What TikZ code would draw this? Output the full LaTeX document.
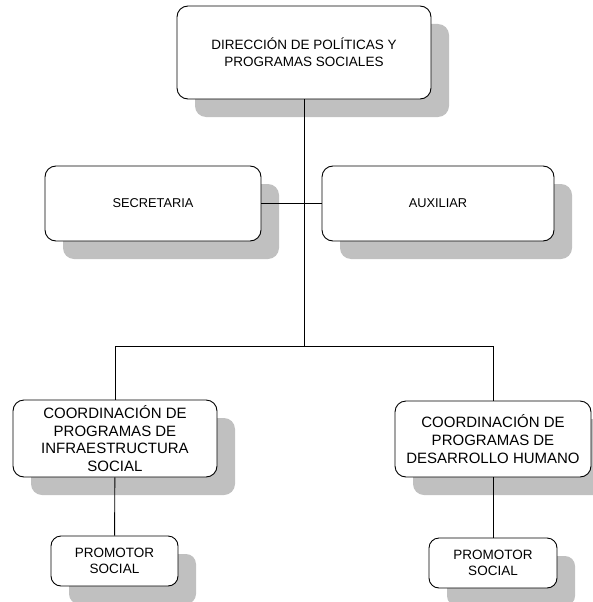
\documentclass[tikz,border=0pt]{standalone}
\usepackage{fontspec}
\setmainfont{Liberation Sans}
\usetikzlibrary{shadows}
\definecolor{shadowgray}{HTML}{C0C0C0}

\begin{document}
\begin{tikzpicture}[x=1pt,y=-1pt,line width=0.9pt,
    box/.style={draw,rectangle,rounded corners=11pt,fill=white,align=center,inner sep=0pt,
        drop shadow={shadow xshift=18pt,shadow yshift=-18pt,fill=shadowgray,opacity=1}},
    big/.style={font=\fontsize{13.5}{17.3}\selectfont},
    mid/.style={font=\fontsize{12.8}{15}\selectfont},
    coord/.style={font=\fontsize{15}{17.7}\selectfont},
    small/.style={font=\fontsize{13.5}{16}\selectfont,rounded corners=10pt}]

            \useasboundingbox (0,0) rectangle (592,602);

            \node[box, big, minimum width=254pt, minimum height=93pt] (1) at (304,52.5) {DIRECCIÓN DE POLÍTICAS Y\\PROGRAMAS SOCIALES};
            \node[box, mid, minimum width=216pt, minimum height=75pt] (2) at (153,203.5) {SECRETARIA};
            \node[box, mid, minimum width=232pt, minimum height=75pt] (3) at (438,203.5) {AUXILIAR};
            \node[box, coord, minimum width=204pt, minimum height=77pt] (4) at (115,438.5) {COORDINACIÓN DE\\PROGRAMAS DE\\INFRAESTRUCTURA\\SOCIAL};
            \node[box, coord, minimum width=196pt, minimum height=76pt] (5) at (493,439) {COORDINACIÓN DE\\PROGRAMAS DE\\DESARROLLO HUMANO};
            \node[box, small, minimum width=127pt, minimum height=50pt] (6) at (114.5,561) {PROMOTOR\\SOCIAL};
            \node[box, small, minimum width=128pt, minimum height=50pt] (7) at (493,563) {PROMOTOR\\SOCIAL};

            \coordinate (b) at (304,346);
            \coordinate (bl) at (115,346);
            \coordinate (br) at (493,346);

            \draw[-] (1) to (b);
            \draw[-] (2) to (3);
            \draw[-] (bl) to (br);
            \draw[-] (bl) to (4);
            \draw[-] (br) to (5);
            \draw[-] (4) to (6);
            \draw[-] (5) to (7);

            ;
        \end{tikzpicture}
\end{document}
